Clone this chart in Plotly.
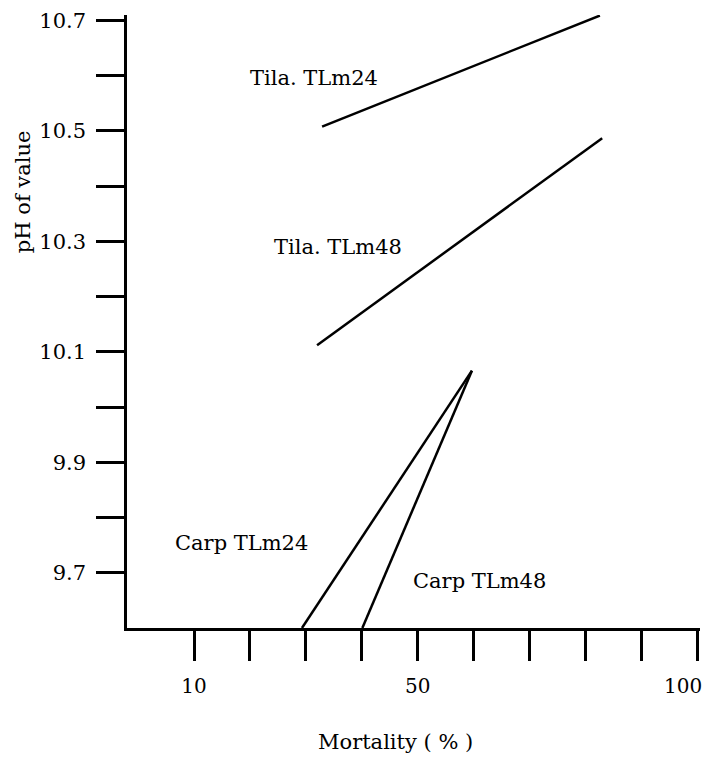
import plotly.graph_objects as go

# Data (x: Mortality %, y: pH value)
tila24_x = [32.9, 82.6]
tila24_y = [10.508, 10.709]
tila48_x = [32.0, 83.0]
tila48_y = [10.112, 10.487]
carp24_x = [29.3, 59.7]
carp24_y = [9.6, 10.066]
carp48_x = [40.1, 59.7]
carp48_y = [9.6, 10.066]

x_tickvals = [10, 20, 30, 40, 50, 60, 70, 80, 90, 100]
x_ticktext = ["10", "", "", "", "50", "", "", "", "", ""]
x_last_label = "100"
y_tickvals = [9.7, 9.8, 9.9, 10.0, 10.1, 10.2, 10.3, 10.4, 10.5, 10.6, 10.7]
y_ticktext = ["9.7", "", "9.9", "", "10.1", "", "10.3", "", "10.5", "", "10.7"]

series_names = ["Tila. TLm24", "Tila. TLm48", "Carp TLm24", "Carp TLm48"]
series_x = [tila24_x, tila48_x, carp24_x, carp48_x]
series_y = [tila24_y, tila48_y, carp24_y, carp48_y]

# label anchor positions (data coords)
label_x = [31.5, 35.8, 18.4, 61.0]
label_y = [10.596, 10.290, 9.754, 9.686]

TEXT_FONT = "DejaVu Serif"

fig = go.Figure()
for name, xs, ys in zip(series_names, series_x, series_y):
    fig.add_trace(go.Scatter(x=xs, y=ys, mode="lines", name=name,
                             line=dict(color="black", width=2.5),
                             showlegend=False, hoverinfo="skip"))

for name, lx, ly in zip(series_names, label_x, label_y):
    fig.add_annotation(x=lx, y=ly, text=name, showarrow=False,
                       xanchor="center", yanchor="middle",
                       font=dict(family=TEXT_FONT, size=21, color="black"))

# last x tick label, kept inside the page edge
fig.add_annotation(xref="paper", yref="paper", x=1.0, y=-0.0953,
                   text=x_last_label, showarrow=False, xshift=4,
                   xanchor="right", yanchor="middle",
                   font=dict(family=TEXT_FONT, size=20, color="black"))

# axis titles placed like the reference
fig.add_annotation(xref="paper", yref="paper", x=-0.1815, y=0.711,
                   text="pH of value", textangle=-90, showarrow=False,
                   xanchor="center", yanchor="middle",
                   font=dict(family=TEXT_FONT, size=21, color="black"))
fig.add_annotation(xref="paper", yref="paper", x=0.469, y=-0.186,
                   text="Mortality ( % )", showarrow=False,
                   xanchor="center", yanchor="middle",
                   font=dict(family=TEXT_FONT, size=21, color="black"))

fig.update_layout(
    width=697, height=754,
    margin=dict(l=119, r=5, t=1, b=134),
    paper_bgcolor="white", plot_bgcolor="white",
    xaxis=dict(
        range=[-2, 100.5], showgrid=False, zeroline=False,
        showline=True, linecolor="black", linewidth=2.5,
        ticks="outside", ticklen=30, tickwidth=2.5, tickcolor="black",
        tickvals=x_tickvals, ticktext=x_ticktext, ticklabelstandoff=8,
        ticklabeloverflow="allow",
        tickfont=dict(family=TEXT_FONT, size=20, color="black"),
    ),
    yaxis=dict(
        range=[9.6, 10.71], showgrid=False, zeroline=False,
        showline=True, linecolor="black", linewidth=2.5,
        ticks="outside", ticklen=28, tickwidth=2.5, tickcolor="black",
        tickvals=y_tickvals, ticktext=y_ticktext, ticklabelstandoff=6,
        ticklabeloverflow="allow",
        tickfont=dict(family=TEXT_FONT, size=21, color="black"),
    ),
)

fig.write_html("out.html")
